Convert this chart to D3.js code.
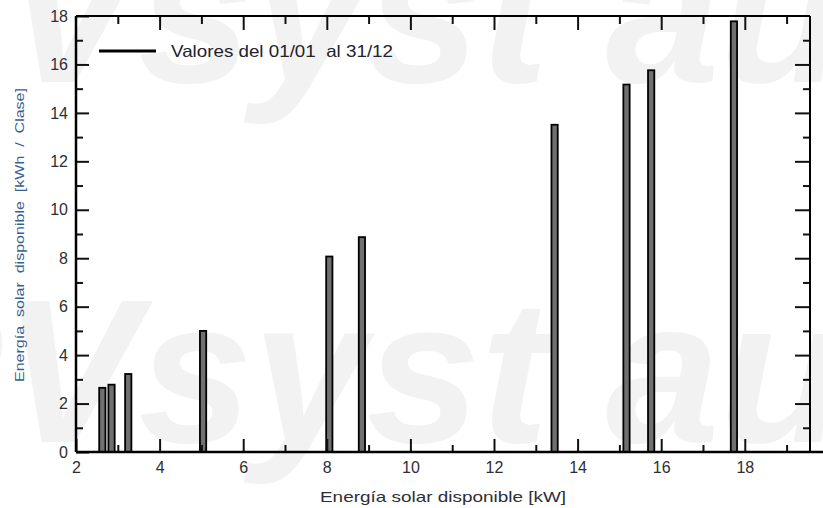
<!DOCTYPE html>
<html><head><meta charset="utf-8">
<script src="https://cdn.jsdelivr.net/npm/d3@7"></script>
<style>body{margin:0;background:#fff}svg{display:block}</style>
</head><body>
<svg id="c" width="823" height="508"></svg>
<script>
const binX = [2.63, 2.85, 3.25, 5.04, 8.06, 8.84, 13.45, 15.17, 15.76, 17.74];
const binValues = [2.65, 2.78, 3.22, 5.0, 8.07, 8.87, 13.51, 15.17, 15.76, 17.78];
const xMajorTicks = [2, 4, 6, 8, 10, 12, 14, 16, 18];
const xMinorTicks = [3, 5, 7, 9, 11, 13, 15, 17, 19];
const yMajorTicks = [0, 2, 4, 6, 8, 10, 12, 14, 16, 18];
const yMinorTicks = [1, 3, 5, 7, 9, 11, 13, 15, 17];
const legendLabel = "Valores del 01/01  al 31/12";
const xTitle = "Energía solar disponible [kW]";
const yTitle = "Energía  solar  disponible  [kWh  /  Clase]";
const watermark = "PVsyst authorized";

const svg = d3.select("#c");
const L = 76, R = 810, T = 16, B = 452;
const x = d3.scaleLinear().domain([2, 19.56]).range([L, R]);
const y = d3.scaleLinear().domain([0, 18]).range([B, T]);
const font = "Liberation Sans, Arial, sans-serif";

// faint watermark (as in the reference)
const wm = svg.append("g").attr("fill", "#f2f2f2")
  .attr("font-family", font)
  .attr("font-weight", "bold").attr("font-style", "italic").attr("font-size", 205);
wm.append("text").attr("x", -135).attr("y", 82).text(watermark);
wm.append("text").attr("x", -135).attr("y", 442).text(watermark);

// bars
const bw = 0.15;
svg.append("g").selectAll("rect").data(binX).join("rect")
  .attr("x", (d) => x(d - bw / 2))
  .attr("width", x(2 + bw) - x(2))
  .attr("y", (d, i) => y(binValues[i]))
  .attr("height", (d, i) => y(0) - y(binValues[i]))
  .attr("fill", "#707070").attr("stroke", "#000").attr("stroke-width", 1.8);

function styleAxis(g, showLabels) {
  g.select(".domain").remove();
  g.selectAll(".tick line").attr("stroke", "#111").attr("stroke-width", 2);
  if (!showLabels) g.selectAll(".tick text").remove();
  else g.selectAll(".tick text").attr("fill", "#2e2e36").attr("font-size", 16).attr("font-family", font);
}

// bottom
svg.append("g").attr("transform", `translate(0,${B})`)
  .call(d3.axisBottom(x).tickValues(xMajorTicks).tickFormat(d3.format("d")).tickSizeInner(-13).tickSizeOuter(0).tickPadding(10))
  .call(g => styleAxis(g, true));
svg.append("g").attr("transform", `translate(0,${B})`)
  .call(d3.axisBottom(x).tickValues(xMinorTicks).tickSizeInner(-7).tickSizeOuter(0))
  .call(g => styleAxis(g, false));
// top
svg.append("g").attr("transform", `translate(0,${T})`)
  .call(d3.axisTop(x).tickValues(xMajorTicks.slice(1)).tickSizeInner(-14).tickSizeOuter(0))
  .call(g => styleAxis(g, false));
svg.append("g").attr("transform", `translate(0,${T})`)
  .call(d3.axisTop(x).tickValues(xMinorTicks).tickSizeInner(-8).tickSizeOuter(0))
  .call(g => styleAxis(g, false));
// left
svg.append("g").attr("transform", `translate(${L},0)`)
  .call(d3.axisLeft(y).tickValues(yMajorTicks).tickFormat(d3.format("d")).tickSizeInner(-13).tickSizeOuter(0).tickPadding(8))
  .call(g => styleAxis(g, true));
svg.append("g").attr("transform", `translate(${L},0)`)
  .call(d3.axisLeft(y).tickValues(yMinorTicks).tickSizeInner(-7).tickSizeOuter(0))
  .call(g => styleAxis(g, false));
// right
svg.append("g").attr("transform", `translate(${R},0)`)
  .call(d3.axisRight(y).tickValues(yMajorTicks.slice(1, -1)).tickSizeInner(-15).tickSizeOuter(0))
  .call(g => styleAxis(g, false));
svg.append("g").attr("transform", `translate(${R},0)`)
  .call(d3.axisRight(y).tickValues(yMinorTicks).tickSizeInner(-7).tickSizeOuter(0))
  .call(g => styleAxis(g, false));

// frame
svg.append("line").attr("x1", L).attr("x2", 823).attr("y1", B).attr("y2", B).attr("stroke", "#000").attr("stroke-width", 2.5);
svg.append("line").attr("x1", L).attr("x2", L).attr("y1", T).attr("y2", B).attr("stroke", "#000").attr("stroke-width", 2.5);
svg.append("line").attr("x1", L).attr("x2", R).attr("y1", T).attr("y2", T).attr("stroke", "#000").attr("stroke-width", 2);
svg.append("line").attr("x1", R).attr("x2", R).attr("y1", T).attr("y2", B).attr("stroke", "#000").attr("stroke-width", 2);

// legend
svg.append("line").attr("x1", 99).attr("x2", 156).attr("y1", 51).attr("y2", 51).attr("stroke", "#000").attr("stroke-width", 3);
svg.append("text").attr("x", 171).attr("y", 57).attr("font-family", font).attr("font-size", 16.5)
  .attr("fill", "#22222c").attr("style", "white-space:pre")
  .attr("textLength", 222).attr("lengthAdjust", "spacingAndGlyphs").text(legendLabel);

// titles
svg.append("text").attr("x", 443).attr("y", 502).attr("text-anchor", "middle").attr("font-family", font)
  .attr("font-size", 15).attr("fill", "#2e2e36").attr("style", "white-space:pre")
  .attr("textLength", 246).attr("lengthAdjust", "spacingAndGlyphs").text(xTitle);
svg.append("text").attr("transform", "translate(24,235) rotate(-90)").attr("text-anchor", "middle")
  .attr("font-family", font).attr("font-size", 12).attr("fill", "#3a5f8f").attr("style", "white-space:pre")
  .attr("textLength", 294).attr("lengthAdjust", "spacingAndGlyphs").text(yTitle);
</script>
</body></html>
